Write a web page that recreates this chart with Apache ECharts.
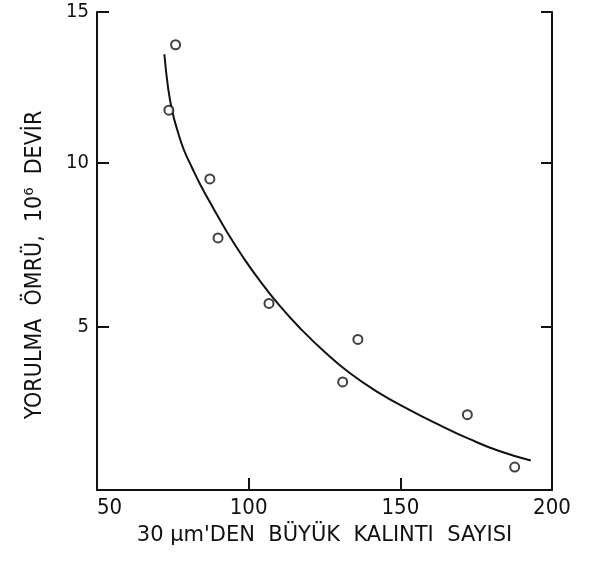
<!DOCTYPE html>
<html>
<head>
<meta charset="utf-8">
<script src="https://cdn.jsdelivr.net/npm/echarts@6/dist/echarts.min.js"></script>
<style>
html,body{margin:0;padding:0;background:#fff;}
#c{width:591px;height:567px;}
</style>
</head>
<body>
<div id="c"></div>
<script>
// measured data points (x: count of inclusions > 30 µm, y: fatigue life 10^6 cycles)
var pointX = [75.9, 73.7, 87.2, 89.9, 106.7, 136.0, 131.0, 172.1, 187.7];
var pointY = [13.6, 11.6, 9.5, 7.7, 5.7, 4.6, 3.3, 2.3, 0.7];
// fitted curve
var curveX = [72.2, 73.5, 74.8, 76.5, 78.6, 81.3, 84.2, 88.2, 92.8, 98.0, 103.6, 110.2, 117.4, 125.0, 133.2, 142.4, 153.0, 162.8, 172.7, 182.6, 193.0];
var curveY = [13.31, 12.24, 11.57, 10.99, 10.40, 9.85, 9.30, 8.63, 7.89, 7.13, 6.40, 5.63, 4.90, 4.22, 3.58, 3.00, 2.45, 1.99, 1.56, 1.19, 0.90];
// axis texts
var xTitle = "30 µm'DEN  BÜYÜK  KALINTI  SAYISI";
var yTitle = "YORULMA  ÖMRÜ,  10⁶  DEVİR";
var yTopLabel = "15";

var FONT = '"DejaVu Sans Condensed", "DejaVu Sans", sans-serif';
var FONT_WIDE = '"DejaVu Sans", sans-serif';
var INK = '#111';

var points = pointX.map(function (x, i) { return [x, pointY[i]]; });
var curve = curveX.map(function (x, i) { return [x, curveY[i]]; });

var chart = echarts.init(document.getElementById('c'), null, {renderer: 'canvas'});
chart.setOption({
  animation: false,
  backgroundColor: '#fff',
  grid: {left: 97, right: 39, top: 12, bottom: 77, containLabel: false},
  xAxis: [{
    type: 'value', min: 50, max: 200, interval: 50, position: 'bottom',
    axisLine: {lineStyle: {color: INK, width: 2}},
    axisTick: {inside: true, length: 12, lineStyle: {color: INK, width: 2}},
    splitLine: {show: false},
    axisLabel: {color: INK, fontFamily: FONT, fontSize: 22, margin: 7, alignMinLabel: 'left'},
    name: xTitle, nameLocation: 'middle', nameGap: 35,
    nameTextStyle: {color: INK, fontFamily: FONT_WIDE, fontSize: 21}
  }, {
    type: 'value', min: 50, max: 200, interval: 50, position: 'top',
    axisLine: {lineStyle: {color: INK, width: 2}},
    axisTick: {show: false}, axisLabel: {show: false}, splitLine: {show: false}
  }],
  yAxis: [{
    type: 'value', min: 0, max: 14.6, interval: 5, position: 'left',
    axisLine: {lineStyle: {color: INK, width: 2}},
    axisTick: {inside: true, length: 12, lineStyle: {color: INK, width: 2}},
    splitLine: {show: false},
    axisLabel: {color: INK, fontFamily: FONT, fontSize: 20, margin: 8,
      formatter: function (v) { if (v === 0) return ''; if (v > 14) return yTopLabel; return String(v); }},
    name: yTitle, nameLocation: 'middle', nameGap: 50,
    nameTextStyle: {color: INK, fontFamily: FONT, fontSize: 23, padding: [0, 28, 0, 0]}
  }, {
    type: 'value', min: 0, max: 14.6, interval: 5, position: 'right',
    axisLine: {lineStyle: {color: INK, width: 2}},
    axisTick: {inside: true, length: 11, lineStyle: {color: INK, width: 2}},
    axisLabel: {show: false}, splitLine: {show: false}
  }],
  series: [{
    type: 'line', data: curve, smooth: 0.5, showSymbol: false, symbol: 'none',
    lineStyle: {color: INK, width: 2}, z: 2
  }, {
    type: 'scatter', data: points, symbol: 'circle', symbolSize: 9,
    itemStyle: {color: '#fff', borderColor: INK, borderWidth: 2}, z: 3
  }]
});
</script>
</body>
</html>
